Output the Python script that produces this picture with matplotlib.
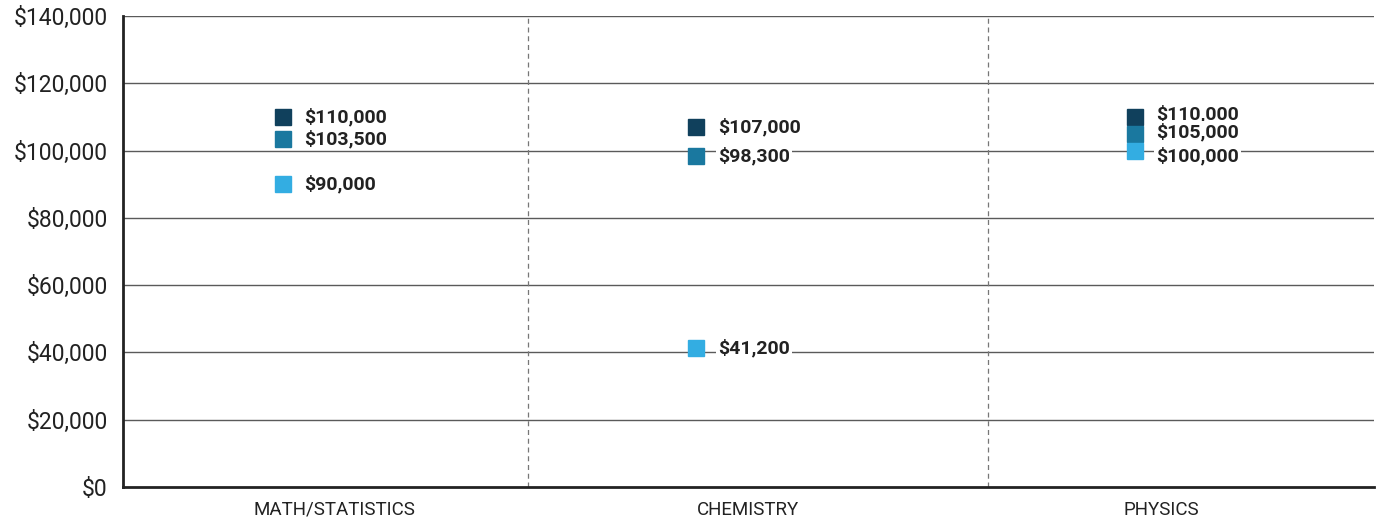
import matplotlib
matplotlib.use("Agg")
import matplotlib.pyplot as plt
from matplotlib.ticker import FuncFormatter

categories = ["MATH/STATISTICS", "CHEMISTRY", "PHYSICS"]
series_high = [110000, 107000, 110000]
series_mid = [103500, 98300, 105000]
series_low = [90000, 41200, 100000]
y_ticks = [0, 20000, 40000, 60000, 80000, 100000, 120000, 140000]

colors = ["#10405c", "#1a789f", "#33ade2"]
marker_offsets = [-0.126, -0.125, -0.063]   # horizontal placement of markers within each category
label_dy = {(2, 0): 2, (2, 1): 1, (2, 2): -4}  # small text nudges (points) to avoid overlaps

plt.rcParams['font.family'] = ['Roboto', 'DejaVu Sans']

fig = plt.figure(figsize=(13.77, 5.21), dpi=100)
ax = fig.add_axes([0.0893, 0.0653, 0.9085, 0.904])

ax.set_ylim(0, 140000)
ax.set_xlim(-0.513, 2.516)

for yv in y_ticks[1:]:
    ax.axhline(yv, color="#5a5a5a", lw=1.0, zorder=1)

for xv in [0.467, 1.581]:
    ax.axvline(xv, color="#777777", lw=0.9, ls=(0, (4, 3)), zorder=1)

all_series = [series_high, series_mid, series_low]
for si, (vals, col) in enumerate(zip(all_series, colors)):
    for ci, v in enumerate(vals):
        x = ci + marker_offsets[ci]
        ax.plot(x, v, marker="s", ms=11.5, color=col, ls="none", zorder=4)
        dy = label_dy.get((ci, si), 0)
        ax.annotate(f"${v:,.0f}", (x, v), xytext=(15.5, dy), textcoords="offset points",
                    ha="left", va="center", fontsize=14, fontweight="bold", color="#222222",
                    zorder=3,
                    bbox=dict(facecolor="white", edgecolor="none", pad=1.5))

ax.set_xticks(range(len(categories)))
ax.set_xticklabels(categories, fontsize=13.5, color="#222222")
ax.set_yticks(y_ticks)
ax.yaxis.set_major_formatter(FuncFormatter(lambda v, p: f"${v:,.0f}"))
ax.tick_params(axis="y", labelsize=16.5, length=0, pad=11, labelcolor="#222222")
ax.tick_params(axis="x", length=0, pad=10)

for s in ["right", "top"]:
    ax.spines[s].set_visible(False)
ax.spines["left"].set_linewidth(2)
ax.spines["bottom"].set_linewidth(2)
ax.spines["left"].set_color("#222222")
ax.spines["bottom"].set_color("#222222")

fig.savefig("out.png", dpi=100)
